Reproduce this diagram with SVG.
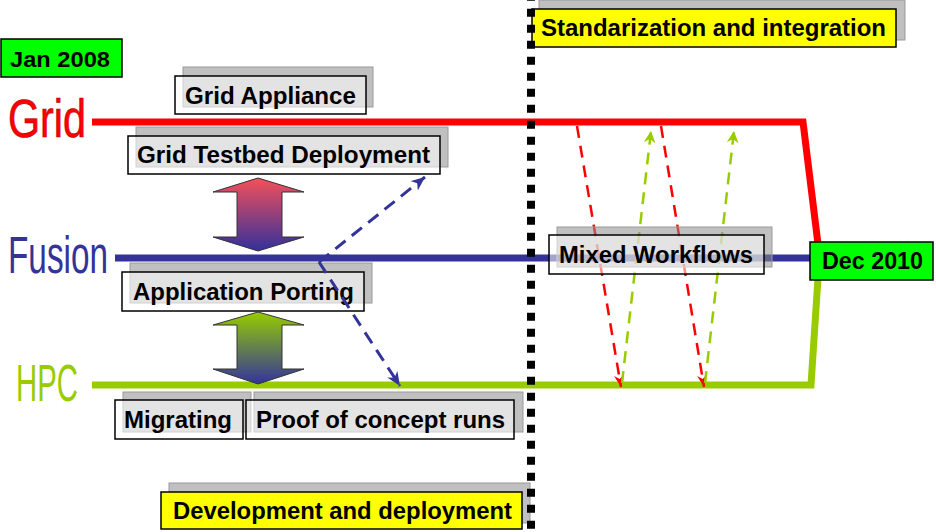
<svg xmlns="http://www.w3.org/2000/svg" width="936" height="532" viewBox="0 0 936 532">
<style>
.lbl{font-family:"Liberation Sans",Arial,sans-serif;font-weight:bold;font-size:24px;fill:#000}
.big{font-family:"Liberation Sans",Arial,sans-serif;font-size:52px}
.shadow{fill:#8c8c8c;fill-opacity:0.55;stroke:#9a9a9a;stroke-width:1}
.front{fill:#ffffff;fill-opacity:0.55;stroke:#000;stroke-width:1.5}
.yel{fill:#ffff00;stroke:#000;stroke-width:1.5}
.grn{fill:#00ff00;stroke:#000;stroke-width:1.5}
.track{fill:none;stroke-width:7;stroke-linejoin:miter}
.dash{fill:none;stroke-width:2.5;stroke-dasharray:12 8}
.bdash{fill:none;stroke-width:3;stroke-dasharray:13 8}
.dblarrow{stroke:#333;stroke-width:1}
</style>
<defs>
<linearGradient id="gRed" x1="0" y1="0" x2="0" y2="1">
<stop offset="0" stop-color="#f4505a"/>
<stop offset="1" stop-color="#33309c"/>
</linearGradient>
<linearGradient id="gGreen" x1="0" y1="0" x2="0" y2="1">
<stop offset="0" stop-color="#96cc00"/>
<stop offset="1" stop-color="#33339c"/>
</linearGradient>
<marker id="mBlue" markerUnits="userSpaceOnUse" markerWidth="16" markerHeight="14" refX="14" refY="6" orient="auto">
<path d="M0,0 L14,6 L0,12 L4,6 Z" fill="#333399"/>
</marker>
<marker id="mRed" markerUnits="userSpaceOnUse" markerWidth="14" markerHeight="12" refX="12" refY="5" orient="auto">
<path d="M0,0 L12,5 L0,10 L4,5 Z" fill="#ff0000"/>
</marker>
<marker id="mGreen" markerUnits="userSpaceOnUse" markerWidth="14" markerHeight="14" refX="12" refY="6" orient="auto">
<path d="M0,0 L12,6 L0,12 L4,6 Z" fill="#99cc00"/>
</marker>
</defs>

<g id="track-labels">
<text class="big" x="8" y="137" fill="#ff0000" stroke="#aa0000" stroke-width="0.6" textLength="78" lengthAdjust="spacingAndGlyphs" style="font-size:53px">Grid</text>
<text class="big" x="8" y="273" fill="#333399" textLength="100" lengthAdjust="spacingAndGlyphs" style="font-size:51px">Fusion</text>
<text class="big" x="16" y="401" fill="#99cc00" textLength="62" lengthAdjust="spacingAndGlyphs" style="font-size:52px">HPC</text>
</g>

<g id="connectors">
<polyline class="track" points="92,122 803,122 818,244" stroke="#ff0000"/>
<line class="track" x1="115" y1="258" x2="812" y2="258" stroke="#333399"/>
<polyline class="track" points="92,385 811,385 818,278" stroke="#99cc00"/>
<line class="dash" x1="577" y1="126" x2="621" y2="387" stroke="#ff0000" marker-end="url(#mRed)"/>
<line class="dash" x1="661" y1="126" x2="704" y2="387" stroke="#ff0000" marker-end="url(#mRed)"/>
<line class="dash" x1="622" y1="383" x2="651" y2="131" stroke="#99cc00" marker-end="url(#mGreen)"/>
<line class="dash" x1="705" y1="383" x2="734" y2="131" stroke="#99cc00" marker-end="url(#mGreen)"/>
</g>

<g id="mixed-workflows">
<rect class="shadow" x="557" y="227" width="215" height="40"/>
<rect class="front" x="549" y="235" width="215" height="39"/>
<text class="lbl" x="559" y="263" textLength="194" lengthAdjust="spacingAndGlyphs">Mixed Workflows</text>
</g>

<g id="jan-2008">
<rect class="grn" x="1" y="39" width="121" height="38"/>
<text class="lbl" x="10" y="67" style="font-size:22px" textLength="100" lengthAdjust="spacingAndGlyphs">Jan 2008</text>
</g>

<g id="grid-appliance">
<rect class="shadow" x="183" y="67" width="190" height="40"/>
<rect class="front" x="175" y="76" width="191" height="38"/>
<text class="lbl" x="185" y="104" textLength="171" lengthAdjust="spacingAndGlyphs">Grid Appliance</text>
</g>

<g id="grid-testbed">
<rect class="shadow" x="136" y="127" width="312" height="40"/>
<rect class="front" x="128" y="136" width="312" height="38"/>
<text class="lbl" x="137" y="163" textLength="293" lengthAdjust="spacingAndGlyphs">Grid Testbed Deployment</text>
</g>

<g id="arrow-grid-fusion">
<polygon class="dblarrow" fill="url(#gRed)" points="258,178 304,192 282,192 282,237 304,237 258,251 213,237 237,237 237,192 213,192"/>
</g>

<g id="application-porting">
<rect class="shadow" x="130" y="263" width="242" height="40"/>
<rect class="front" x="122" y="272" width="242" height="39"/>
<text class="lbl" x="133" y="300" textLength="221" lengthAdjust="spacingAndGlyphs">Application Porting</text>
</g>

<g id="arrow-fusion-hpc">
<polygon class="dblarrow" fill="url(#gGreen)" points="258,312 304,325 282,325 282,369 304,369 258,384 213,369 237,369 237,325 213,325"/>
</g>

<g id="migrating">
<rect class="shadow" x="123" y="392" width="128" height="40"/>
<rect class="front" x="115" y="400" width="128" height="39"/>
<text class="lbl" x="124" y="428" textLength="108" lengthAdjust="spacingAndGlyphs">Migrating</text>
</g>

<g id="proof-of-concept">
<rect class="shadow" x="254" y="392" width="269" height="40"/>
<rect class="front" x="246" y="400" width="268" height="39"/>
<text class="lbl" x="256" y="428" textLength="249" lengthAdjust="spacingAndGlyphs">Proof of concept runs</text>
</g>

<g id="development">
<rect class="shadow" x="169" y="483" width="361" height="40"/>
<rect class="yel" x="161" y="492" width="361" height="37"/>
<text class="lbl" x="173" y="519" textLength="339" lengthAdjust="spacingAndGlyphs">Development and deployment</text>
</g>

<g id="standardization">
<rect class="shadow" x="539" y="0" width="366" height="40"/>
<rect class="yel" x="532" y="9" width="364" height="38"/>
<text class="lbl" x="541" y="36" textLength="345" lengthAdjust="spacingAndGlyphs">Standarization and integration</text>
</g>

<g id="dec-2010">
<rect class="grn" x="810" y="242" width="123" height="38"/>
<text class="lbl" x="822" y="269" style="font-size:23px" textLength="101" lengthAdjust="spacingAndGlyphs">Dec 2010</text>
</g>

<g id="fusion-links">
<line class="bdash" x1="319" y1="262" x2="425" y2="177" stroke="#333399" marker-end="url(#mBlue)"/>
<line class="bdash" x1="319" y1="262" x2="400" y2="386" stroke="#333399" marker-end="url(#mBlue)"/>
</g>

<g id="milestone-divider">
<line x1="531" y1="-7.3" x2="531" y2="532" stroke="#000" stroke-width="8" stroke-dasharray="8 8"/>
</g>
</svg>
